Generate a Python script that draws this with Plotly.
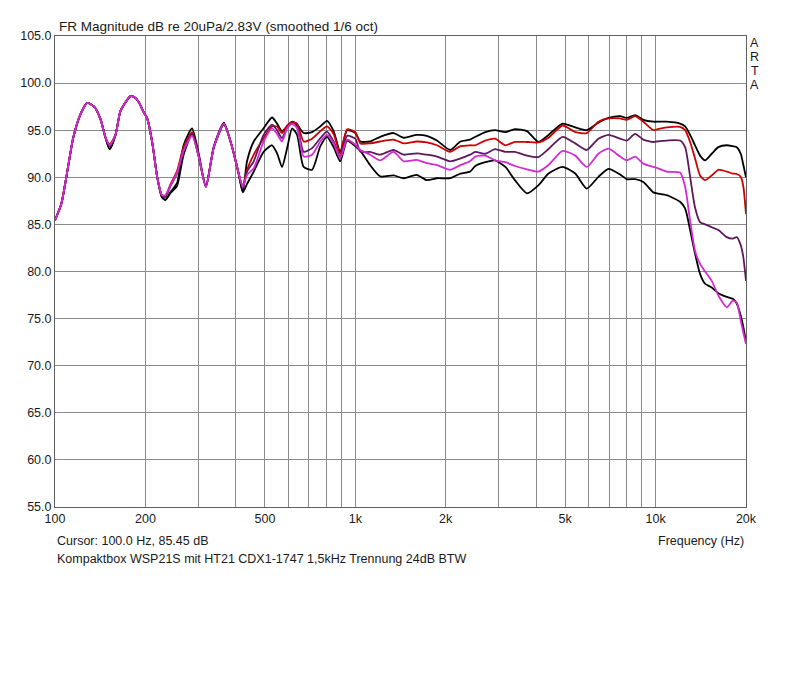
import plotly.graph_objects as go

# frequency points (Hz) shared by all curves
freq = [100, 105, 110, 115, 122, 128, 135, 142, 147, 152, 159, 165, 172, 178, 184,
        190, 196, 203, 211, 219, 227, 233, 242, 255, 268, 286, 301, 318, 338, 365,
        389, 409, 422, 436, 459, 495, 528, 549, 570, 593, 616, 640, 673, 718, 765,
        805, 847, 891, 939, 1000, 1040, 1120, 1210, 1340, 1450, 1600, 1730, 1870,
        2070, 2240, 2410, 2510, 2710, 2920, 3160, 3400, 3730, 4070, 4400, 4900,
        5400, 5900, 6450, 6970, 7620, 8020, 8550, 9100, 9830, 10100, 10900, 12060,
        12540, 13030, 13530, 14060, 14610, 15380, 16180, 17260, 18070, 18630,
        19210, 19600, 20000]

# dB values
black_top = [85.45, 87.2, 90.7, 94.2, 96.8, 97.9, 97.5, 96.1, 94.3, 93.0, 94.5, 97.0, 98.0, 98.6, 98.5,
             98.0, 97.1, 96.2, 93.6, 90.0, 87.9, 87.6, 88.4, 89.4, 93.4, 95.2, 92.5, 89.0, 93.3, 95.8,
             93.2, 90.3, 88.5, 91.7, 93.8, 95.2, 96.35, 95.7, 94.9, 95.4, 95.9, 95.6, 94.7, 94.8, 95.4,
             96.0, 94.9, 92.7, 95.0, 94.7, 93.8, 93.8, 94.3, 94.7, 94.2, 94.5, 94.4, 93.9,
             92.9, 93.8, 94.0, 94.3, 94.8, 95.0, 94.8, 95.1, 94.9, 93.75, 94.5, 95.7,
             95.3, 95.0, 95.8, 96.3, 96.5, 96.3, 96.6, 96.1, 95.9, 95.9, 95.9, 95.7,
             95.4, 94.5, 93.4, 92.3, 91.8, 92.5, 93.2, 93.4, 93.3, 93.2,
             92.5, 91.3, 90.0]

red = [85.45, 87.2, 90.7, 94.2, 96.8, 97.9, 97.5, 96.1, 94.3, 93.5, 94.5, 97.0, 98.0, 98.6, 98.5,
       98.0, 97.1, 96.2, 93.6, 90.0, 88.1, 88.0, 89.2, 90.7, 93.2, 94.8, 92.2, 89.0, 93.2, 95.7,
       93.2, 90.4, 89.0, 90.8, 92.4, 94.15, 95.4, 95.4, 94.7, 95.5, 95.85, 95.7, 93.8, 94.1, 94.9,
       95.4, 94.6, 92.5, 95.1, 94.8, 93.6, 93.6, 93.8, 94.0, 93.6, 93.8, 93.7, 93.4,
       92.7, 93.3, 93.4, 93.4, 93.9, 94.1, 93.4, 93.75, 93.75, 93.7, 94.2, 95.5,
       94.8, 94.7, 95.9, 96.25, 96.25, 96.1, 96.5, 95.9, 95.0, 95.1, 95.3, 95.35,
       95.0, 93.75, 92.0, 90.2, 89.7, 90.2, 90.8, 90.6, 90.4, 90.35,
       90.05, 89.0, 86.1]

purple = [85.45, 87.2, 90.7, 94.2, 96.8, 97.9, 97.5, 96.1, 94.3, 93.3, 94.5, 97.0, 98.0, 98.6, 98.5,
          98.0, 97.1, 96.2, 93.6, 90.0, 88.1, 87.9, 89.0, 90.4, 92.9, 94.6, 92.2, 89.0, 93.2, 95.7,
          93.2, 90.4, 88.8, 90.6, 91.7, 94.5, 95.6, 95.0, 94.15, 95.3, 95.7, 95.4, 92.7, 93.1, 94.15,
          94.85, 93.8, 92.2, 94.4, 94.1, 92.7, 92.7, 92.4, 92.9, 92.4, 92.55, 92.4, 92.2,
          91.7, 92.0, 92.4, 92.7, 92.5, 93.0, 92.7, 92.7, 92.3, 92.15, 93.0, 94.3,
          93.6, 92.9, 94.1, 94.5, 94.1, 93.9, 94.6, 94.0, 93.75, 93.8, 93.9, 93.9,
          93.2, 90.05, 86.8, 85.25, 85.0, 84.7, 84.4, 83.65, 83.5, 83.65,
          82.8, 81.5, 79.0]

magenta = [85.45, 87.2, 90.7, 94.2, 96.8, 97.9, 97.5, 96.1, 94.3, 93.4, 94.5, 97.0, 98.0, 98.6, 98.5,
           98.0, 97.1, 96.2, 93.6, 90.0, 88.1, 88.1, 89.1, 90.5, 92.8, 94.4, 92.2, 89.0, 93.2, 95.7,
           93.2, 90.4, 89.0, 90.25, 90.95, 93.8, 95.2, 94.6, 93.8, 95.2, 95.7, 95.2, 92.2, 92.4, 93.8,
           94.5, 93.6, 92.0, 94.0, 93.45, 92.9, 92.4, 91.8, 92.7, 91.7, 91.85, 91.5, 91.3,
           90.8, 91.3, 91.7, 92.2, 92.3, 91.8, 91.6, 91.2, 90.85, 90.6, 91.3, 92.8,
           92.3, 91.1, 92.5, 93.05, 92.2, 91.8, 92.2, 91.45, 91.1, 91.0, 90.6, 90.5,
           89.0, 85.4, 82.2, 80.8, 80.0, 79.0, 77.45, 76.2, 76.9, 76.7,
           74.8, 73.5, 72.3]

black_low = [85.45, 87.2, 90.7, 94.2, 96.8, 97.9, 97.5, 96.1, 94.3, 93.0, 94.5, 97.0, 98.0, 98.6, 98.5,
             98.0, 97.1, 96.2, 93.6, 90.0, 87.9, 87.6, 88.3, 89.1, 92.4, 94.6, 92.2, 89.0, 93.2, 95.6,
             93.2, 90.4, 88.4, 89.3, 90.6, 92.7, 93.4, 92.55, 91.1, 93.1, 95.2, 94.5, 91.1, 90.8, 93.3,
             94.3, 93.2, 91.7, 93.9, 93.3, 92.8, 91.3, 90.1, 90.2, 89.9, 90.25, 89.7, 89.9,
             89.9, 90.4, 90.6, 91.2, 91.6, 91.8, 91.1, 89.7, 88.3, 89.15, 90.4, 91.1,
             90.4, 88.8, 90.05, 90.9, 90.3, 89.8, 89.8, 89.5, 88.4, 88.3, 88.1, 87.4,
             86.7, 84.4, 81.9, 79.75, 78.7, 78.3, 77.7, 77.3, 77.1, 76.6,
             75.3, 74.1, 72.5]

# axis ticks
x_grid = [100, 200, 300, 400, 500, 600, 700, 800, 900,
          1000, 2000, 3000, 4000, 5000, 6000, 7000, 8000, 9000, 10000, 20000]
x_labels = {100: "100", 200: "200", 500: "500", 1000: "1k", 2000: "2k",
            5000: "5k", 10000: "10k", 20000: "20k"}
y_ticks = [55, 60, 65, 70, 75, 80, 85, 90, 95, 100, 105]

font = "Liberation Sans, Arial, sans-serif"
txt_col = "#1a1a1a"

fig = go.Figure()
curves = [(black_top, "#000000"), (black_low, "#000000"), (red, "#cc0000"),
          (purple, "#5c1a5c"), (magenta, "#d42ad4")]
for vals, col in curves:
    fig.add_trace(go.Scatter(x=freq, y=vals, mode="lines",
                             line=dict(color=col, width=1.8, shape="spline", smoothing=0.6),
                             showlegend=False, hoverinfo="skip"))

# page has an 8px body margin, so the figure is a bit smaller than the window
fig.update_layout(
    width=784, height=680,
    margin=dict(l=47, r=46, t=28, b=181),
    paper_bgcolor="white", plot_bgcolor="white",
    font=dict(family=font, size=12.5, color=txt_col),
    xaxis=dict(type="log", range=[2, 4.30103],
               tickvals=x_grid,
               ticktext=[x_labels.get(v, "") for v in x_grid],
               showgrid=True, gridcolor="#8a8a8a", gridwidth=1,
               showline=True, mirror=True, linecolor="#606060", linewidth=1,
               ticks="", zeroline=False, tickfont=dict(size=12.5, color=txt_col)),
    yaxis=dict(range=[55, 105], tickvals=y_ticks,
               ticktext=["%.1f" % v for v in y_ticks],
               showgrid=True, gridcolor="#8a8a8a", gridwidth=1,
               showline=True, mirror=True, linecolor="#606060", linewidth=1,
               ticks="", zeroline=False, tickfont=dict(size=12.5, color=txt_col)),
)

# texts around the plot
notes = [
    ("FR Magnitude dB re 20uPa/2.83V (smoothed 1/6 oct)", 0.003, 1.0, "left", "bottom", 13.5),
    ("Cursor: 100.0 Hz, 85.45 dB", 0.0, -0.072, "left", "middle", 12.5),
    ("Frequency (Hz)", 1.0, -0.072, "right", "middle", 12.5),
    ("Kompaktbox WSP21S mit HT21 CDX1-1747 1,5kHz Trennung 24dB BTW", 0.0, -0.11, "left", "middle", 12.5),
]
for t, x, y, xa, ya, fs in notes:
    fig.add_annotation(text=t, x=x, y=y, xref="paper", yref="paper",
                       xanchor=xa, yanchor=ya, showarrow=False,
                       font=dict(family=font, size=fs, color=txt_col))

for i, ch in enumerate("ARTA"):
    fig.add_annotation(text=ch, x=1.013, y=1 - (7 + 14 * i) / 471, xref="paper", yref="paper",
                       xanchor="center", yanchor="middle", showarrow=False,
                       font=dict(family=font, size=12.5, color=txt_col))

fig.write_html("out.html")
